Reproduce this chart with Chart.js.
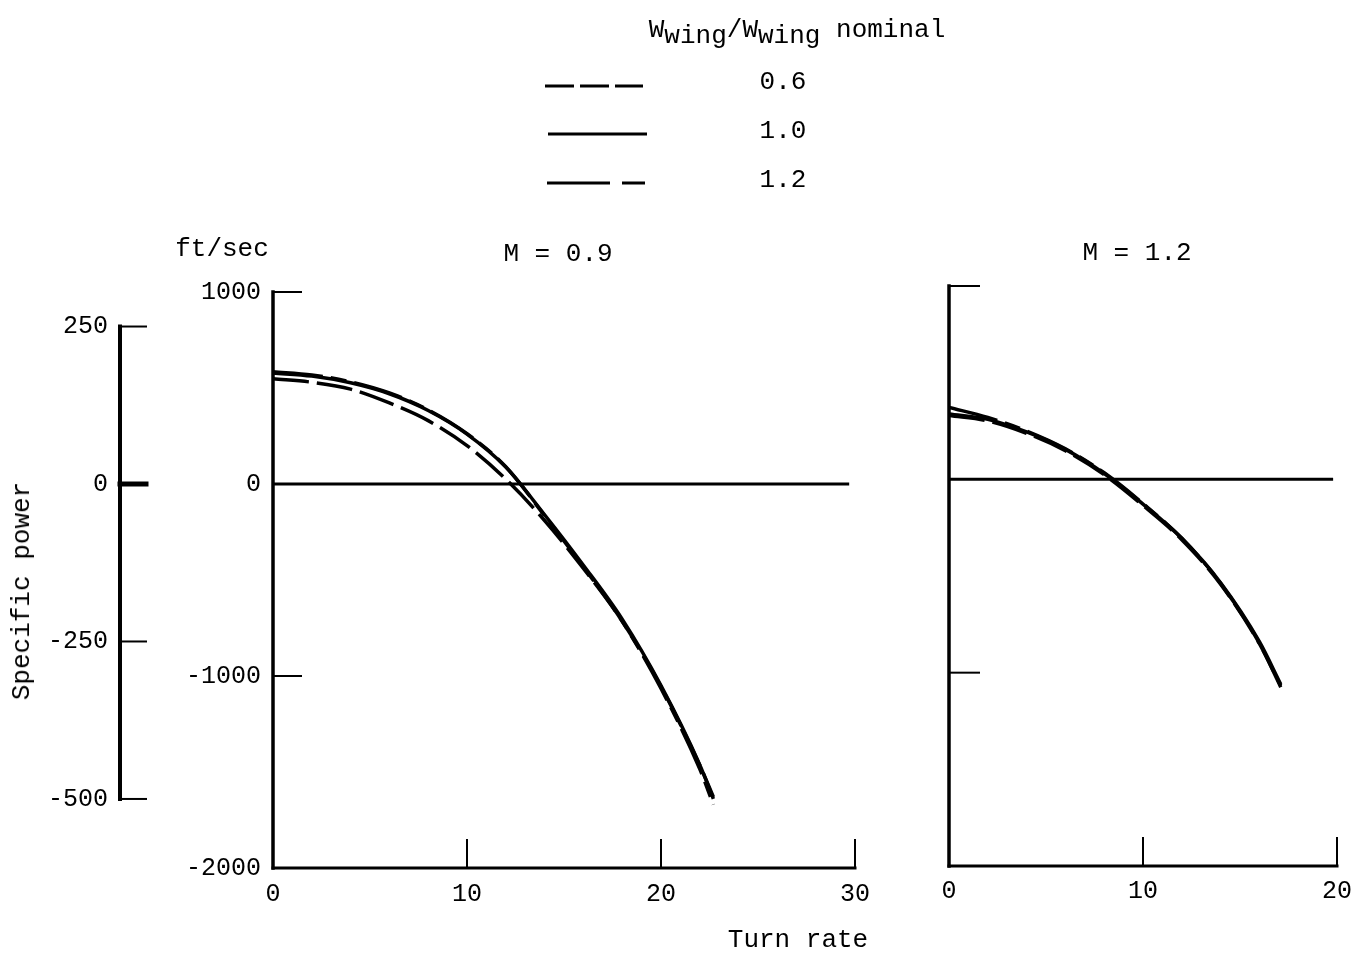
<!DOCTYPE html>
<html><head><meta charset="utf-8">
<script src="https://cdn.jsdelivr.net/npm/chart.js@4.4.1/dist/chart.umd.min.js"></script>
<style>
html,body{margin:0;padding:0;background:#fff;}
body{width:1355px;height:954px;position:relative;overflow:hidden;font-family:"Liberation Mono","DejaVu Sans Mono",monospace;color:#000;}
.box{position:absolute;}
.t{position:absolute;font-size:26px;line-height:1;white-space:nowrap;transform:translate(-50%,-50%);}
.sub{position:relative;top:6px;}
</style></head><body>
<div class="box" style="left:0;top:0;width:900px;height:954px"><canvas id="c1"></canvas></div>
<div class="box" style="left:900px;top:0;width:480px;height:954px"><canvas id="c2"></canvas></div>
<svg style="position:absolute;left:0;top:0" width="1355" height="230">
  <line x1="545" y1="86" x2="643" y2="86" stroke="#000" stroke-width="3" stroke-dasharray="29 6"/>
  <line x1="548" y1="134" x2="647" y2="134" stroke="#000" stroke-width="3"/>
  <line x1="547" y1="183" x2="645" y2="183" stroke="#000" stroke-width="3" stroke-dasharray="63 12 23 12"/>
</svg>
<div class="t" id="legTitle" style="left:797px;top:30px"></div>
<div class="t" id="leg0" style="left:783px;top:82px"></div>
<div class="t" id="leg1" style="left:783px;top:131px"></div>
<div class="t" id="leg2" style="left:783px;top:180px"></div>
<div class="t" style="left:222px;top:249px">ft/sec</div>
<div class="t" id="title1" style="left:558px;top:254px"></div>
<div class="t" id="title2" style="left:1137px;top:253px"></div>
<div class="t" style="left:798px;top:940px">Turn rate</div>
<div class="t" style="left:22px;top:591px;transform:translate(-50%,-50%) rotate(-90deg)">Specific power</div>
<script>
// ---- data ----
const turnRateM09 = [0, 2, 4, 6, 8, 10, 12, 14, 16, 18, 20, 22, 22.7];
const psM09_W06 = [548, 530, 494, 422, 330, 200, 25, -190, -440, -715, -1055, -1465, -1630];
const psM09_W10 = [578, 562, 527, 470, 383, 260, 88, -160, -423, -704, -1050, -1463, -1640];
const psM09_W12 = [585, 568, 532, 474, 386, 262, 90, -165, -432, -715, -1065, -1485, -1670];

const turnRateM12 = [0, 2, 4, 6, 8, 10, 12, 14, 16, 17.1];
const psM12_W06 = [330, 302, 238, 148, 24, -135, -312, -542, -850, -1068];
const psM12_W10 = [338, 310, 245, 155, 30, -128, -305, -535, -840, -1060];
const psM12_W12 = [372, 320, 250, 158, 34, -125, -305, -538, -848, -1075];

const zeroLineXM09 = [0, 29.7];
const zeroLineXM12 = [0, 19.8];
const zeroLineY = [0, 0];

const ftTicks = [1000, 0, -1000, -2000];
const ftInnerTicks = [1000, 0, -1000];
const msTicks = [250, 0, -250, -500];
const xTicksM09 = [0, 10, 20, 30];
const xTicksM12 = [0, 10, 20];
const weightRatios = ['0.6', '1.0', '1.2'];
const panelTitles = ['M = 0.9', 'M = 1.2'];
const legendTitleParts = ['W', 'wing', '/', 'W', 'wing', ' nominal'];
const FT_TO_M = 0.3048;

// ---- text ----
document.getElementById('legTitle').innerHTML =
  legendTitleParts[0] + '<span class="sub">' + legendTitleParts[1] + '</span>' + legendTitleParts[2] +
  legendTitleParts[3] + '<span class="sub">' + legendTitleParts[4] + '</span>' + legendTitleParts[5];
weightRatios.forEach((w, i) => document.getElementById('leg' + i).textContent = w);
document.getElementById('title1').textContent = panelTitles[0];
document.getElementById('title2').textContent = panelTitles[1];

Chart.defaults.font.family = '"Liberation Mono","DejaVu Sans Mono",monospace';
Chart.defaults.color = '#000';

const pts = (xs, ys) => xs.map((x, i) => ({x: x, y: ys[i]}));
const dashes = {w06: [36, 8], w10: [], w12: [50, 8, 16, 8]};

function curve(label, xs, ys, dash) {
  return {label: label, data: pts(xs, ys), borderColor: '#000', borderWidth: 3.5, borderDash: dash,
    pointRadius: 0, fill: false, cubicInterpolationMode: 'monotone'};
}
function zero(xs) {
  return {label: 'zero', data: pts(xs, zeroLineY), borderColor: '#000', borderWidth: 3, pointRadius: 0, fill: false};
}
const setTicks = arr => s => { s.ticks = arr.map(v => ({value: v})); };
const plainScale = (extra) => Object.assign({
  type: 'linear',
  grid: {display: false, drawTicks: false},
  border: {display: false},
  ticks: {font: {size: 25}, color: '#000', callback: v => String(v)}
}, extra);

function line(ctx, x1, y1, x2, y2, w) {
  ctx.lineWidth = w; ctx.beginPath(); ctx.moveTo(x1, y1); ctx.lineTo(x2, y2); ctx.stroke();
}

const paperAxes = {
  id: 'paperAxes',
  afterDraw(chart, args, opts) {
    const ctx = chart.ctx;
    const xs = chart.scales.x, ys = chart.scales.y;
    ctx.save();
    ctx.strokeStyle = '#000';
    ctx.lineCap = 'square';
    const x0 = xs.getPixelForValue(xs.min);
    const yb = ys.getPixelForValue(ys.min);
    // x axis
    line(ctx, x0, yb, xs.getPixelForValue(xs.max), yb, 3);
    opts.xTicks.forEach(v => { if (v !== xs.min) { const p = xs.getPixelForValue(v); line(ctx, p, yb, p, yb - 28, 2); } });
    // y axis (ft/sec)
    line(ctx, x0, ys.getPixelForValue(ys.max), x0, yb, 3.5);
    opts.yTicks.forEach(v => { const p = ys.getPixelForValue(v); line(ctx, x0, p, x0 + opts.yTickLen, p, 2); });
    // metric axis
    if (chart.scales.yMs) {
      const m = chart.scales.yMs;
      const xm = m.right;
      line(ctx, xm, m.getPixelForValue(opts.msTicks[0]), xm, m.getPixelForValue(opts.msTicks[opts.msTicks.length - 1]), 4);
      opts.msTicks.forEach(v => { const p = m.getPixelForValue(v); line(ctx, xm, p, xm + 26, p, v === 0 ? 5 : 2); });
    }
    ctx.restore();
  }
};

new Chart(document.getElementById('c1'), {
  type: 'line',
  data: {datasets: [
    zero(zeroLineXM09),
    curve(weightRatios[0], turnRateM09, psM09_W06, dashes.w06),
    curve(weightRatios[1], turnRateM09, psM09_W10, dashes.w10),
    curve(weightRatios[2], turnRateM09, psM09_W12, dashes.w12)
  ]},
  options: {
    responsive: true, maintainAspectRatio: false, animation: false,
    layout: {padding: {top: 292, right: 45, bottom: 40, left: 0}},
    plugins: {legend: {display: false}, tooltip: {enabled: false},
      paperAxes: {xTicks: xTicksM09, yTicks: ftInnerTicks, yTickLen: 28, msTicks: msTicks}},
    scales: {
      x: plainScale({position: 'bottom', min: 0, max: 30, afterBuildTicks: setTicks(xTicksM09),
        afterFit: s => { s.height = 46; }, ticks: {font: {size: 25}, color: '#000', padding: 11, maxRotation: 0, callback: v => String(v)}}),
      y: plainScale({position: 'left', weight: 0, min: -2000, max: 1000, afterBuildTicks: setTicks(ftTicks),
        afterFit: s => { s.width = 153; }, ticks: {font: {size: 25}, color: '#000', padding: 12, callback: v => String(v)}}),
      yMs: plainScale({position: 'left', weight: 5, min: -2000 * FT_TO_M, max: 1000 * FT_TO_M, afterBuildTicks: setTicks(msTicks),
        afterFit: s => { s.width = 120; }, ticks: {font: {size: 25}, color: '#000', padding: 12, callback: v => String(v)}})
    }
  },
  plugins: [paperAxes]
});

new Chart(document.getElementById('c2'), {
  type: 'line',
  data: {datasets: [
    zero(zeroLineXM12),
    curve(weightRatios[0], turnRateM12, psM12_W06, dashes.w06),
    curve(weightRatios[1], turnRateM12, psM12_W10, dashes.w10),
    curve(weightRatios[2], turnRateM12, psM12_W12, dashes.w12)
  ]},
  options: {
    responsive: true, maintainAspectRatio: false, animation: false,
    layout: {padding: {top: 286, right: 43, bottom: 42, left: 49}},
    plugins: {legend: {display: false}, tooltip: {enabled: false},
      paperAxes: {xTicks: xTicksM12, yTicks: [1000, -1000], yTickLen: 30}},
    scales: {
      x: plainScale({position: 'bottom', min: 0, max: 20, afterBuildTicks: setTicks(xTicksM12),
        afterFit: s => { s.height = 46; }, ticks: {font: {size: 25}, color: '#000', padding: 10, maxRotation: 0, callback: v => String(v)}}),
      y: plainScale({position: 'left', display: false, min: -2000, max: 1000})
    }
  },
  plugins: [paperAxes]
});
</script>
</body></html>
